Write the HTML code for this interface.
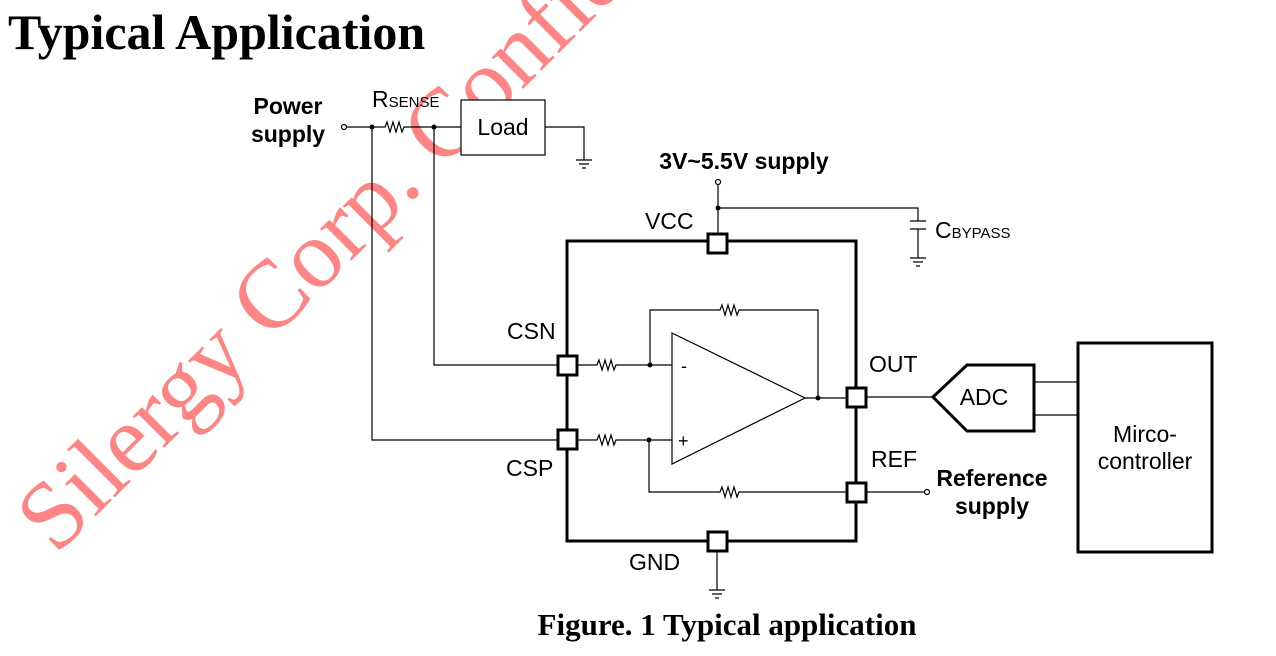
<!DOCTYPE html>
<html><head><meta charset="utf-8"><style>
html,body{margin:0;padding:0;background:#fff;}
svg{display:block;}
</style></head><body>
<svg width="1276" height="656" viewBox="0 0 1276 656" xmlns="http://www.w3.org/2000/svg">
<text x="56" y="556" transform="rotate(-45 56 556)" font-family="Liberation Serif, serif" font-size="97" fill="#ff7070" fill-opacity="0.85">Silergy Corp. Confidential</text>
<text x="8" y="49" font-family="Liberation Serif, serif" font-weight="bold" font-size="50" fill="#000">Typical Application</text>
<text x="727" y="635" text-anchor="middle" font-family="Liberation Serif, serif" font-weight="bold" font-size="31" fill="#000">Figure. 1 Typical application</text>
<g fill="none" stroke="#000" stroke-width="1.2">
<path d="M347 127 H385 l2 -5 l3 10 l3 -10 l3 10 l3 -10 l3 10 l2 -5 H461"/>
<path d="M372 127 V440 H557"/>
<path d="M434 127 V365 H557"/>
<path d="M545 127 H584 V160"/>
<path d="M576 160 h16 M579 164 h10 M582 168 h4"/>
<path d="M718 185 V233 M718 208 H918 V221 M918 229 V258"/>
<path d="M910 221 h16 M910 229 h16"/>
<path d="M910 258 h16 M913 262 h10 M916 266 h4"/>
<path d="M717 551 V590 M709 590 h16 M712 594 h10 M715 598 h4"/>
<path d="M577 365 H597 l2 -5 l3 10 l3 -10 l3 10 l3 -10 l3 10 l2 -5 H672"/>
<path d="M577 440 H597 l2 -5 l3 10 l3 -10 l3 10 l3 -10 l3 10 l2 -5 H672"/>
<path d="M650 365 V310 H720 l2 -5 l3 10 l3 -10 l3 10 l3 -10 l3 10 l2 -5 H818 V398"/>
<path d="M649 440 V492 H720 l2 -5 l3 10 l3 -10 l3 10 l3 -10 l3 10 l2 -5 H846"/>
<path d="M805 398 H846"/>
<path d="M672 333 L805 398 L672 464 Z"/>
<path d="M866 397 H933"/>
<path d="M866 492 H925"/>
<path d="M1034 382 H1078 M1034 415 H1078"/>
</g>
<g fill="#fff" stroke="#000" stroke-width="1.2">
<circle cx="344" cy="127" r="2.5"/>
<circle cx="718" cy="182" r="2.5"/>
<circle cx="927" cy="492" r="2.5"/>
<rect x="461" y="100" width="84" height="55"/>
</g>
<g fill="#000">
<circle cx="372" cy="127" r="2.5"/><circle cx="434" cy="127" r="2.5"/>
<circle cx="718" cy="208" r="2.5"/><circle cx="650" cy="365" r="2.5"/>
<circle cx="649" cy="440" r="2.5"/><circle cx="818" cy="398" r="2.5"/>
</g>
<g fill="none" stroke="#000" stroke-width="3">
<rect x="567" y="241" width="289" height="300"/>
<path d="M933 397 L967 365 H1034 V431 H967 Z"/>
<rect x="1078" y="343" width="134" height="209"/>
</g>
<g fill="#fff" stroke="#000" stroke-width="3">
<rect x="708" y="234" width="19" height="19"/>
<rect x="708" y="532" width="19" height="19"/>
<rect x="558" y="356" width="19" height="19"/>
<rect x="558" y="430" width="19" height="19"/>
<rect x="847" y="388" width="19" height="19"/>
<rect x="847" y="483" width="19" height="19"/>
</g>
<g font-family="Liberation Sans, sans-serif" fill="#000">
<text x="288" y="114" text-anchor="middle" font-weight="bold" font-size="23">Power</text>
<text x="288" y="142" text-anchor="middle" font-weight="bold" font-size="23">supply</text>
<text x="372" y="107" font-size="23">R<tspan font-size="15">SENSE</tspan></text>
<text x="503" y="135" text-anchor="middle" font-size="23">Load</text>
<text x="744" y="169" text-anchor="middle" font-weight="bold" font-size="23">3V~5.5V supply</text>
<text x="645" y="229" font-size="23">VCC</text>
<text x="935" y="238" font-size="23">C<tspan font-size="15">BYPASS</tspan></text>
<text x="507" y="339" font-size="23">CSN</text>
<text x="506" y="476" font-size="23">CSP</text>
<text x="869" y="372" font-size="23">OUT</text>
<text x="871" y="467" font-size="23">REF</text>
<text x="629" y="570" font-size="23">GND</text>
<text x="984" y="405" text-anchor="middle" font-size="23">ADC</text>
<text x="992" y="486" text-anchor="middle" font-weight="bold" font-size="23">Reference</text>
<text x="992" y="514" text-anchor="middle" font-weight="bold" font-size="23">supply</text>
<text x="1145" y="442" text-anchor="middle" font-size="23">Mirco-</text>
<text x="1145" y="469" text-anchor="middle" font-size="23">controller</text>
<text x="681" y="372" font-size="18">-</text>
<text x="678" y="447" font-size="18">+</text>
</g>
</svg>
</body></html>
